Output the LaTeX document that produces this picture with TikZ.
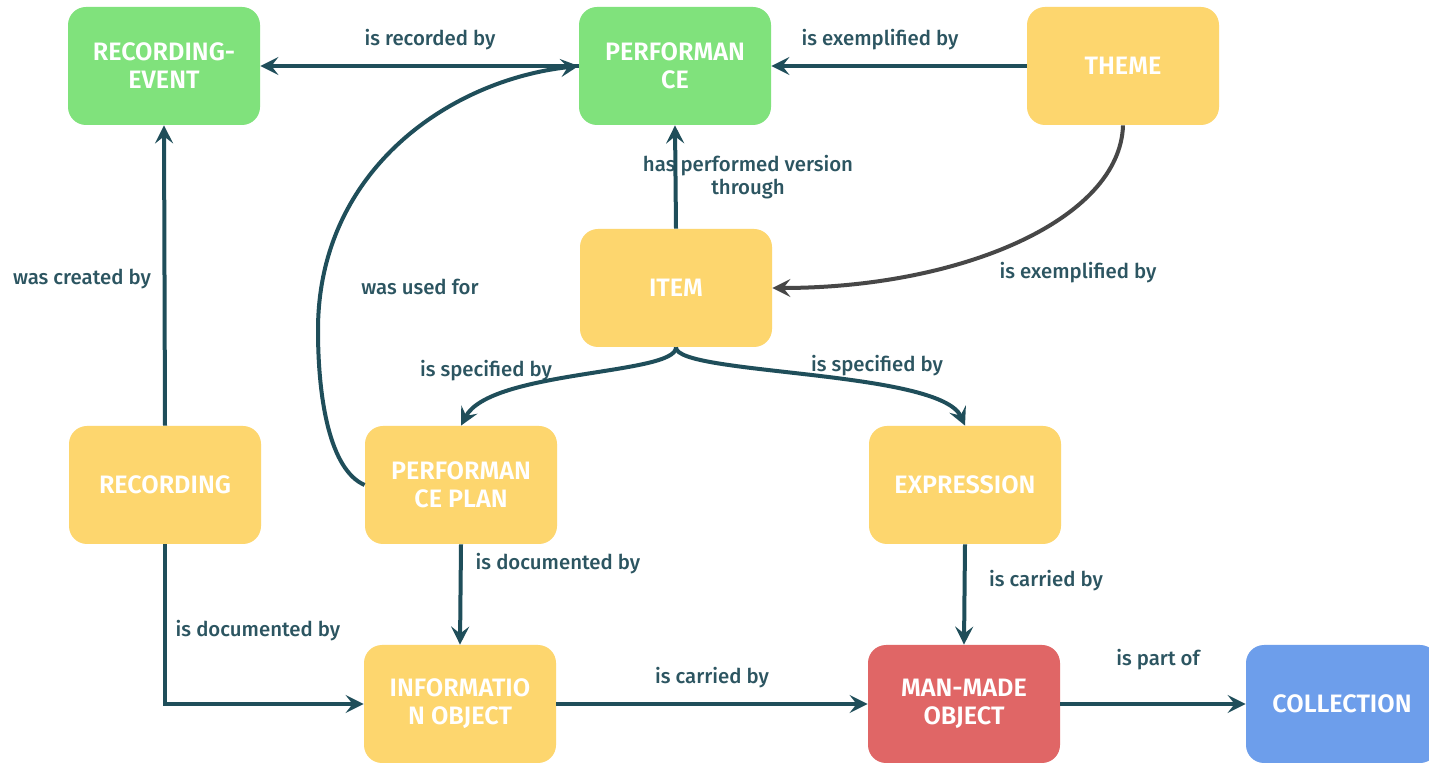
\documentclass[tikz,border=0pt]{standalone}
\usepackage{fontspec}
\setmainfont{Fira Sans}
\newfontfamily\boxfont{Fira Sans SemiBold}
\newfontfamily\lblfont{Fira Sans Medium}
\usetikzlibrary{arrows.meta}
\definecolor{cgreen}{HTML}{80E27C}
\definecolor{cyellow}{HTML}{FDD66E}
\definecolor{cred}{HTML}{E06666}
\definecolor{cblue}{HTML}{6D9EEB}
\definecolor{carrow}{HTML}{1F4E5A}
\definecolor{clabel}{HTML}{2C5561}
\definecolor{cgray}{HTML}{474747}
\begin{document}
\begin{tikzpicture}[x=0.5pt,y=-0.5pt,
  box/.style={rounded corners=9pt, minimum width=96pt, minimum height=59pt, text=white,
    font=\boxfont\fontsize{12.6}{14}\selectfont, align=center, inner sep=0pt},
  lbl/.style={text=clabel, font=\lblfont\fontsize{10.2}{11.5}\selectfont, align=center, inner sep=0pt},
  conn/.style={draw=carrow, line width=2pt, -{Stealth[length=9pt,width=9pt,inset=3.5pt]}},
]
\clip (0,0) rectangle (1429,763);
\fill[white] (0,0) rectangle (1429,763);

% nodes
\node[box, fill=cgreen] (re) at (164,66) {RECORDING-\\EVENT};
\node[box, fill=cgreen] (perf) at (675,66) {PERFORMAN\\CE};
\node[box, fill=cyellow] (theme) at (1123,66) {THEME};
\node[box, fill=cyellow] (item) at (676,288) {ITEM};
\node[box, fill=cyellow] (rec) at (165,485) {RECORDING};
\node[box, fill=cyellow] (pp) at (461,485) {PERFORMAN\\CE PLAN};
\node[box, fill=cyellow] (expr) at (965,485) {EXPRESSION};
\node[box, fill=cyellow] (io) at (460,704) {INFORMATIO\\N OBJECT};
\node[box, fill=cred] (mmo) at (964,704) {MAN-MADE\\OBJECT};
\node[box, fill=cblue] (coll) at (1342,704) {COLLECTION};

% labels
\node[lbl] (l1) at (430,40) {is recorded by};
\node[lbl] (l2) at (880,40) {is exemplified by};
\node[lbl] (l3) at (748,177) {has performed version\\through};
\node[lbl] (l4) at (1078,273) {is exemplified by};
\node[lbl] (l5) at (82,279) {was created by};
\node[lbl] (l6) at (420,287) {was used for};
\node[lbl] (l7) at (486,371) {is specified by};
\node[lbl] (l8) at (877,366) {is specified by};
\node[lbl] (l9) at (258,631) {is documented by};
\node[lbl] (l10) at (558,564) {is documented by};
\node[lbl] (l11) at (1046,581) {is carried by};
\node[lbl] (l12) at (712,678) {is carried by};
\node[lbl] (l13) at (1158,660) {is part of};

% connectors
\draw[conn] (perf.west) -- (re.east);
\draw[conn] (theme.west) -- (perf.east);
\draw[conn] (item.north) -- (perf.south);
\draw[conn, draw=cgray] (theme.south) .. controls (1120,220) and (960,288) .. (item.east);
\draw[conn] (rec.north) -- (re.south);
\draw[conn] (pp.west) .. controls (330,470) and (318,400) .. (318,330)
  .. controls (318,170) and (450,80) .. (perf.west);
\draw[conn] (item.south) .. controls (676,375) and (490,370) .. (pp.north);
\draw[conn] (item.south) .. controls (676,375) and (940,370) .. (expr.north);
\draw[conn] (rec.south) |- (io.west);
\draw[conn] (pp.south) -- (io.north);
\draw[conn] (expr.south) -- (mmo.north);
\draw[conn] (io.east) -- (mmo.west);
\draw[conn] (mmo.east) -- (coll.west);
\end{tikzpicture}
\end{document}
